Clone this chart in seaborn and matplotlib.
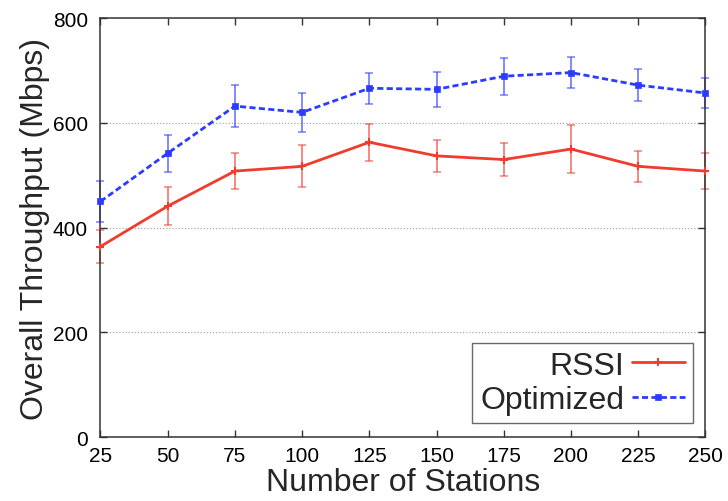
import numpy as np
import pandas as pd
import matplotlib
matplotlib.use("Agg")
import matplotlib.pyplot as plt
import seaborn as sns

stations = [25, 50, 75, 100, 125, 150, 175, 200, 225, 250]
rssi = [364, 441, 508, 517, 563, 537, 530, 550, 517, 508]
rssi_err = [32, 36, 34, 40, 35, 30, 32, 45, 30, 34]
optimized = [450, 542, 632, 620, 666, 664, 689, 696, 672, 657]
optimized_err = [40, 35, 40, 37, 30, 33, 35, 29, 31, 28]

RED = "#f03c2e"
BLUE = "#2b3cff"

sns.set_style("ticks")
plt.rcParams['font.family'] = ['Liberation Sans', 'DejaVu Sans']

df = pd.DataFrame({
    "Number of Stations": stations * 2,
    "Throughput": rssi + optimized,
    "Scheme": ["RSSI"] * len(stations) + ["Optimized"] * len(stations),
})

fig = plt.figure(figsize=(7.28, 5.02), dpi=100)
ax = fig.add_axes([0.138, 0.127, 0.831, 0.835])

for y in [200, 400, 600]:
    ax.axhline(y, color="#aaaaaa", linestyle=(0, (1, 1.5)), linewidth=0.9, zorder=0)

ax.errorbar(stations, rssi, yerr=rssi_err, fmt="none", ecolor=RED, alpha=0.6,
            elinewidth=1.4, capsize=3, capthick=1.2, zorder=2, clip_on=False)
ax.errorbar(stations, optimized, yerr=optimized_err, fmt="none", ecolor=BLUE, alpha=0.6,
            elinewidth=1.4, capsize=3, capthick=1.2, zorder=2, clip_on=False)

sns.lineplot(data=df[df.Scheme == "RSSI"], x="Number of Stations", y="Throughput",
             color=RED, marker="+", markersize=6, markeredgewidth=1.5,
             markeredgecolor=RED, linewidth=2.0,
             label="RSSI", ax=ax, zorder=3, clip_on=False)
sns.lineplot(data=df[df.Scheme == "Optimized"], x="Number of Stations", y="Throughput",
             color=BLUE, marker="s", markersize=5, markeredgewidth=0.5,
             markeredgecolor=BLUE, linewidth=2.0,
             linestyle=(0, (2.2, 1.2)), label="Optimized", ax=ax, zorder=3, clip_on=False)

ax.set_xlim(25, 250)
ax.set_ylim(0, 800)
ax.set_xticks(stations)
ax.set_yticks([0, 200, 400, 600, 800])
ax.tick_params(direction="in", top=True, right=True, length=5, width=1,
               labelsize=15, color="#333333", labelcolor="black")
ax.tick_params(axis="y", pad=9)
ax.tick_params(axis="x", pad=6)
for s in ax.spines.values():
    s.set_visible(True)
    s.set_linewidth(1.1)
    s.set_color("#333333")

ax.set_xlabel("Number of Stations", fontsize=23, labelpad=2)
ax.set_ylabel("Overall Throughput (Mbps)", fontsize=23, labelpad=2)

leg = ax.legend(loc="lower right", fontsize=23, markerfirst=False, frameon=True,
                fancybox=False, edgecolor="#444444", handlelength=1.65,
                borderpad=0.25, labelspacing=0.15, handletextpad=0.25,
                borderaxespad=0, bbox_to_anchor=(0.979, 0.033))
leg.get_frame().set_linewidth(1.0)

fig.savefig("out.png", dpi=100)
